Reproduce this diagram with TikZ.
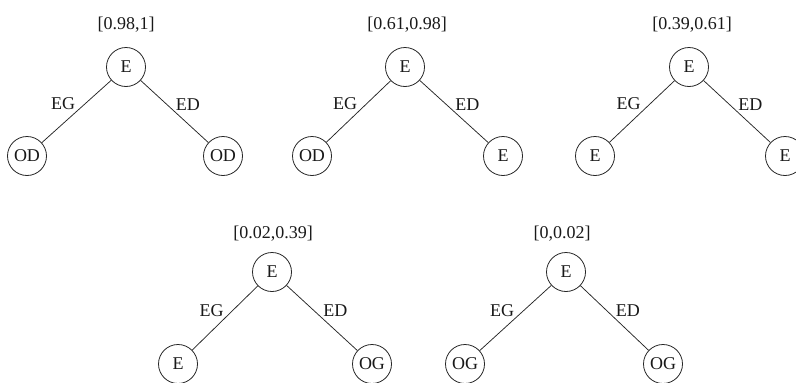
\documentclass[tikz,border=0pt]{standalone}
\usepackage{fontspec}
\setmainfont{Liberation Serif}
\begin{document}
\begin{tikzpicture}[x=1pt,y=-1pt,
  every node/.style={font=\fontsize{18}{20}\selectfont, text=black!90},
  st/.style={circle, draw=black!85, line width=0.8pt, minimum size=39pt, inner sep=0pt},
  ttl/.style={inner sep=0pt},
  br/.style={draw=black!85, line width=0.75pt},
  lbl/.style={inner sep=1pt}]
\useasboundingbox (0,0) rectangle (796,383);
% tree 1
\node[ttl] (t1) at (126,25) {[0.98,1]};
\node[st] (r1) at (126,67) {E};
\node[st] (a1) at (27,156) {OD};
\node[st] (b1) at (223,156) {OD};
\draw[br] (r1) -- node[lbl, midway, anchor=south east] {EG} (a1);
\draw[br] (r1) -- node[lbl, midway, anchor=south west] {ED} (b1);
% tree 2
\node[ttl] (t2) at (407,25) {[0.61,0.98]};
\node[st] (r2) at (405,67) {E};
\node[st] (a2) at (312,156) {OD};
\node[st] (b2) at (503,156) {E};
\draw[br] (r2) -- node[lbl, midway, anchor=south east] {EG} (a2);
\draw[br] (r2) -- node[lbl, midway, anchor=south west] {ED} (b2);
% tree 3
\node[ttl] (t3) at (692,25) {[0.39,0.61]};
\node[st] (r3) at (689,67) {E};
\node[st] (a3) at (595,156) {E};
\node[st] (b3) at (785,156) {E};
\draw[br] (r3) -- node[lbl, midway, anchor=south east] {EG} (a3);
\draw[br] (r3) -- node[lbl, midway, anchor=south west] {ED} (b3);
% tree 4
\node[ttl] (t4) at (273,234) {[0.02,0.39]};
\node[st] (r4) at (272,272) {E};
\node[st] (a4) at (178,364) {E};
\node[st] (b4) at (372,364) {OG};
\draw[br] (r4) -- node[lbl, midway, anchor=south east] {EG} (a4);
\draw[br] (r4) -- node[lbl, midway, anchor=south west] {ED} (b4);
% tree 5
\node[ttl] (t5) at (562,234) {[0,0.02]};
\node[st] (r5) at (566,272) {E};
\node[st] (a5) at (465,364) {OG};
\node[st] (b5) at (663,364) {OG};
\draw[br] (r5) -- node[lbl, midway, anchor=south east] {EG} (a5);
\draw[br] (r5) -- node[lbl, midway, anchor=south west] {ED} (b5);
\end{tikzpicture}
\end{document}
